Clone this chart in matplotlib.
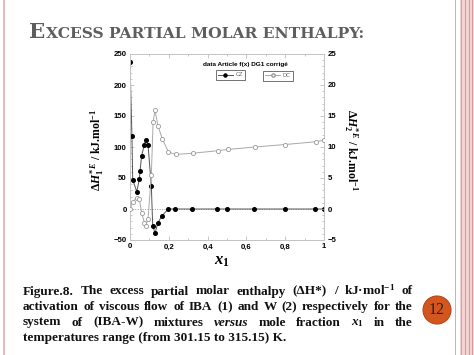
import matplotlib
matplotlib.use("Agg")
import matplotlib.pyplot as plt
from matplotlib.lines import Line2D
from matplotlib.patches import Circle, Rectangle
from matplotlib.ticker import MultipleLocator

# ---------- DATA ----------
x_cz = [0.0, 0.010, 0.014, 0.035, 0.048, 0.052, 0.060, 0.074, 0.081, 0.093,
        0.110, 0.117, 0.129, 0.144, 0.165, 0.197, 0.232, 0.321, 0.450, 0.498,
        0.641, 0.797, 0.955, 1.0]
h1_cz = [237, 117, 47, 28, 48, 62, 86, 104, 111, 103,
         37, -27, -39, -22, -11, 0, 0, 0, 0, 0,
         0, 0, 0, 0]

x_dc = [0.0, 0.014, 0.035, 0.048, 0.060, 0.074, 0.081, 0.093, 0.110, 0.119,
        0.129, 0.144, 0.167, 0.198, 0.235, 0.325, 0.452, 0.503, 0.644, 0.799,
        0.958, 1.0]
h2_dc = [0.0, 1.1, 1.8, 1.6, -0.6, -2.2, -2.7, -1.6, 5.5, 14.0,
         15.9, 13.4, 11.3, 9.2, 8.8, 9.0, 9.4, 9.6, 10.0, 10.4,
         10.85, 11.1]

x_ticks = [0, 0.2, 0.4, 0.6, 0.8, 1.0]
x_ticklabels = ["0", "0,2", "0,4", "0,6", "0,8", "1"]

caption = [
    [("Figure.8.", "n"), ("The", "n"), ("excess", "n"), ("partial", "n"), ("molar", "n"),
     ("enthalpy", "n"), ("(ΔH*)", "n"), ("/", "n"), ("kJ·mol$^{-1}$", "n"), ("of", "n")],
    [("activation", "n"), ("of", "n"), ("viscous", "n"), ("flow", "n"), ("of", "n"), ("IBA", "n"),
     ("(1)", "n"), ("and", "n"), ("W", "n"), ("(2)", "n"), ("respectively", "n"), ("for", "n"), ("the", "n")],
    [("system", "n"), ("of", "n"), ("(IBA-W)", "n"), ("mixtures", "n"), ("versus", "i"), ("mole", "n"),
     ("fraction", "n"), ("$x_1$", "n"), ("in", "n"), ("the", "n")],
    [("temperatures range (from 301.15 to 315.15) K.", "n")],
]

plt.rcParams['mathtext.fontset'] = 'custom'
plt.rcParams['mathtext.rm'] = 'Liberation Serif:bold'
plt.rcParams['mathtext.it'] = 'Liberation Serif:italic:bold'
plt.rcParams['mathtext.bf'] = 'Liberation Serif:bold'

W, H = 474, 355
fig = plt.figure(figsize=(W / 100, H / 100), dpi=100, facecolor="white")

# background layer in pixel coordinates
bg = fig.add_axes([0, 0, 1, 1], zorder=-5)
bg.set_xlim(0, W)
bg.set_ylim(H, 0)
bg.axis("off")

# slide borders
bg.add_patch(Rectangle((3, 0), 2, H, color="#e9b9b9", lw=0))
bg.add_patch(Rectangle((455, 0), 1.5, H, color="#e3a9a9", lw=0))
bg.add_patch(Rectangle((460, 0), 14, H, color="#f3d3d3", lw=0))
for xs in [461, 465, 469, 472]:
    bg.add_patch(Rectangle((xs, 0), 1.2, H, color="#d99a9a", lw=0))

# page number badge
bg.add_patch(Circle((437, 310), 14, facecolor="#d4561f", edgecolor="#b8481a", lw=0.8))
bg.text(437, 310.5, "12", ha="center", va="center", fontsize=11.5,
        family="Liberation Serif", color="#2a2220")

# ---------- CHART ----------
ax = fig.add_axes([130 / W, 1 - 240 / H, 194 / W, 186 / H])
ax2 = ax.twinx()

ax.axhline(0, color="#999999", lw=0.7, ls=(0, (1, 1.5)), zorder=1)
ax.plot(x_cz, h1_cz, color="#555555", lw=0.7, marker="o", ms=2.6,
        mfc="black", mec="black", zorder=3)
ax2.plot(x_dc, h2_dc, color="#a8a8a8", lw=0.7, marker="o", ms=3.0,
         mfc="white", mec="#999999", mew=0.6, zorder=3)

ax.set_xlim(0, 1)
ax.set_ylim(-50, 250)
ax2.set_ylim(-5, 25)
ax.set_xticks(x_ticks)
ax.set_xticklabels(x_ticklabels)
ax.yaxis.set_major_locator(MultipleLocator(50))
ax.yaxis.set_minor_locator(MultipleLocator(10))
ax2.yaxis.set_major_locator(MultipleLocator(5))
ax2.yaxis.set_minor_locator(MultipleLocator(1))
ax.xaxis.set_minor_locator(MultipleLocator(0.1))

for a in (ax, ax2):
    for s in a.spines.values():
        s.set_color("#c4c4c4")
        s.set_linewidth(0.7)
    a.tick_params(which="both", direction="in", color="#b0b0b0", width=0.5,
                  labelsize=5.6, pad=2.5)
    a.tick_params(which="major", length=3)
    a.tick_params(which="minor", length=1.5)
    for lab in a.get_xticklabels() + a.get_yticklabels():
        lab.set_fontweight("bold")
        lab.set_family("Liberation Sans")
ax.tick_params(top=True, which="both")
ax2.tick_params(axis="y", right=True, left=False)
ax.tick_params(axis="y", right=False)
ax.set_facecolor("none")
ax2.set_facecolor("none")

# axis labels
fig.text(97 / W, 1 - 150 / H, r"$\Delta H^{*\,E}_{1}$ / kJ.mol$^{-1}$", rotation=90,
         ha="center", va="center", fontsize=8.5, family="Liberation Serif", weight="bold")
fig.text(351 / W, 1 - 150 / H, r"$\Delta H^{*\,E}_{2}$ / kJ.mol$^{-1}$", rotation=270,
         ha="center", va="center", fontsize=8.5, family="Liberation Serif", weight="bold")
fig.text(222 / W, 1 - 260 / H, r"$x_1$", ha="center", va="center", fontsize=12)

# legend
fig.text(245 / W, 1 - 64.5 / H, "data Article f(x) DG1 corrigé", ha="center", va="center",
         fontsize=4.6, weight="bold", family="Liberation Sans")
h_cz = Line2D([], [], color="#555555", lw=0.7, marker="o", ms=2.2, mfc="black", mec="black")
h_dc = Line2D([], [], color="#a8a8a8", lw=0.7, marker="o", ms=2.4, mfc="white", mec="#999999")
leg_kw = dict(loc="center", bbox_transform=fig.transFigure, fontsize=4, frameon=True,
              fancybox=False, handlelength=2.6, borderpad=0.45, handletextpad=0.5,
              borderaxespad=0)
l1 = ax2.legend([h_cz], ["CZ"], bbox_to_anchor=(230.5 / W, 1 - 75 / H), **leg_kw)
l1.get_frame().set_edgecolor("#333333")
l1.get_frame().set_linewidth(0.6)
ax2.add_artist(l1)
l2 = ax2.legend([h_dc], ["DC"], bbox_to_anchor=(278 / W, 1 - 75.5 / H), **leg_kw)
l2.get_frame().set_edgecolor("#333333")
l2.get_frame().set_linewidth(0.6)
for lg in (l1, l2):
    for t in lg.get_texts():
        t.set_color("#666666")

# ---------- SLIDE TITLE (small caps, fitted to width) ----------
renderer = fig.canvas.get_renderer()
title_left, title_right, title_base = 29.5, 363, 37.5
size_big, size_small = 13.5, 9.8
t_big = bg.text(title_left, title_base, "E", fontsize=size_big, family="DejaVu Serif",
                weight="bold", color="#5e5e5e", va="baseline")
t_rest = bg.text(0, title_base, "XCESS PARTIAL MOLAR ENTHALPY:", fontsize=size_small,
                 family="DejaVu Serif", weight="bold", color="#5e5e5e", va="baseline")
for _ in range(3):
    bb = t_big.get_window_extent(renderer)
    t_rest.set_x(bb.x1 + 0.5)
    end = t_rest.get_window_extent(renderer).x1
    k = (title_right - title_left) / (end - title_left)
    size_big *= k
    size_small *= k
    t_big.set_fontsize(size_big)
    t_rest.set_fontsize(size_small)
bb = t_big.get_window_extent(renderer)
t_rest.set_x(bb.x1 + 0.5)

# ---------- CAPTION (justified) ----------
left, right = 23, 413
baselines = [294.5, 310, 325.5, 341]
cap_size = 9.5
for i, (line, yb) in enumerate(zip(caption, baselines)):
    objs = []
    for word, style in line:
        objs.append(bg.text(0, yb, word, fontsize=cap_size, family="Liberation Serif",
                            weight="bold", style="italic" if style == "i" else "normal",
                            va="baseline", ha="left", color="#111111"))
    widths = [o.get_window_extent(renderer).width for o in objs]
    if i < len(caption) - 1 and len(objs) > 1:
        gap = (right - left - sum(widths)) / (len(objs) - 1)
    else:
        gap = 0
    xpos = left
    for o, w in zip(objs, widths):
        o.set_x(xpos)
        xpos += w + gap

fig.savefig("out.png", dpi=100, facecolor="white")
